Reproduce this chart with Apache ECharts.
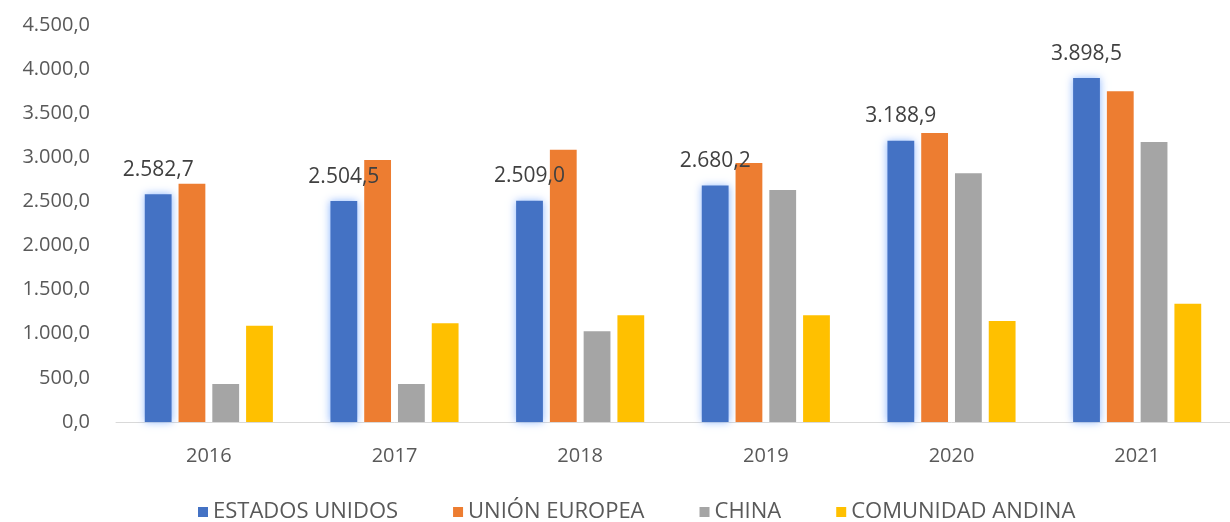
<!DOCTYPE html>
<html>
<head>
<meta charset="utf-8">
<script src="https://cdn.jsdelivr.net/npm/echarts@6/dist/echarts.min.js"></script>
<style>
html, body { margin: 0; padding: 0; background: #fff; }
#main { width: 1230px; height: 522px; }
</style>
</head>
<body>
<div id="main"></div>
<script>
var years = ['2016', '2017', '2018', '2019', '2020', '2021'];
var estadosUnidos = [2582.7, 2504.5, 2509.0, 2680.2, 3188.9, 3898.5];
var unionEuropea = [2700, 2970, 3085, 2935, 3275, 3750];
var china = [430, 430, 1030, 2630, 2820, 3175];
var comunidadAndina = [1090, 1120, 1210, 1210, 1145, 1340];

// formato 4.500,0
function fmt(v) {
    var parts = Number(v).toFixed(1).split('.');
    parts[0] = parts[0].replace(/\B(?=(\d{3})+(?!\d))/g, '.');
    return parts[0] + ',' + parts[1];
}

var chart = echarts.init(document.getElementById('main'));

var option = {
    animation: false,
    textStyle: { fontFamily: 'Open Sans, Liberation Sans, sans-serif' },
    legend: {
        bottom: -6,
        left: 193,
        itemWidth: 10,
        itemHeight: 10,
        itemGap: 55,
        icon: 'rect',
        textStyle: { color: '#595959', fontSize: 22 },
        data: ['ESTADOS UNIDOS', 'UNIÓN EUROPEA', 'CHINA', 'COMUNIDAD ANDINA']
    },
    grid: {
        left: 116,
        right: -13,
        top: 25,
        bottom: 100
    },
    xAxis: {
        type: 'category',
        data: years,
        axisLine: { lineStyle: { color: '#d9d9d9' } },
        axisTick: { show: false },
        axisLabel: { color: '#595959', fontSize: 20, margin: 24 }
    },
    yAxis: {
        type: 'value',
        min: 0,
        max: 4500,
        interval: 500,
        splitLine: { show: false },
        axisLine: { show: false },
        axisTick: { show: false },
        axisLabel: { color: '#595959', fontSize: 20, margin: 26, formatter: fmt }
    },
    series: [
        {
            name: 'ESTADOS UNIDOS',
            type: 'bar',
            barGap: '26%',
            barCategoryGap: '31%',
            data: estadosUnidos,
            itemStyle: {
                color: '#4472C4',
                shadowColor: 'rgba(130,175,255,0.9)',
                shadowBlur: 8
            },
            label: {
                show: true,
                position: 'top',
                distance: 14,
                color: '#404040',
                fontSize: 21,
                formatter: function (p) { return fmt(p.value); }
            }
        },
        {
            name: 'UNIÓN EUROPEA',
            type: 'bar',
            data: unionEuropea,
            itemStyle: { color: '#ED7D31' }
        },
        {
            name: 'CHINA',
            type: 'bar',
            data: china,
            itemStyle: { color: '#A5A5A5' }
        },
        {
            name: 'COMUNIDAD ANDINA',
            type: 'bar',
            data: comunidadAndina,
            itemStyle: { color: '#FFC000' }
        }
    ]
};
chart.setOption(option);
</script>
</body>
</html>
